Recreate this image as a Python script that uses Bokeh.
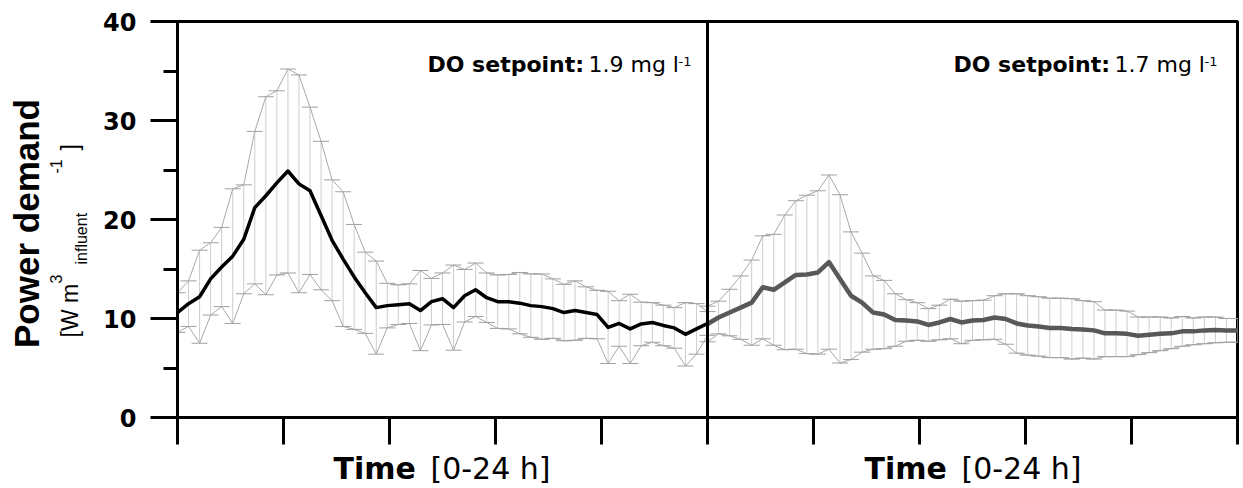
import math
from bokeh.plotting import figure
from bokeh.models import Range1d, FixedTicker, Label, Span, CustomJSTickFormatter
from bokeh.layouts import row, column
from bokeh.embed import file_html
from bokeh.resources import INLINE

# ---------------- data ----------------
half_hours = [i * 0.5 for i in range(49)]          # 0 ... 24 h, 30-min steps

mean_do19 = [10.6, 11.5, 12.2, 14.0, 15.2, 16.3, 18.0, 21.2, 22.4, 23.7,
             24.9, 23.6, 22.9, 20.4, 17.9, 16.0, 14.2, 12.6, 11.1, 11.3,
             11.4, 11.5, 10.8, 11.7, 12.0, 11.1, 12.3, 12.9, 12.1, 11.7,
             11.7, 11.55, 11.3, 11.2, 11.0, 10.6, 10.8, 10.6, 10.4, 9.1,
             9.5, 8.95, 9.45, 9.6, 9.3, 9.05, 8.4, 8.95, 9.5]
sd_do19 = [2.0, 2.3, 4.7, 3.65, 4.0, 6.8, 5.5, 7.7, 10.0, 9.3,
           10.3, 11.0, 8.45, 7.5, 6.1, 6.8, 5.3, 4.1, 4.7, 2.25,
           2.0, 2.0, 4.05, 2.35, 2.6, 4.3, 2.65, 2.7, 2.5, 2.7,
           2.75, 3.1, 3.2, 3.3, 3.0, 2.85, 3.0, 2.6, 2.45, 3.65,
           2.3, 3.5, 2.2, 2.0, 2.05, 2.05, 3.2, 2.55, 1.2]

mean_do17 = [9.45, 10.1, 10.6, 11.1, 11.6, 13.15, 12.9, 13.65, 14.4, 14.45,
             14.65, 15.7, 14.0, 12.3, 11.6, 10.6, 10.4, 9.85, 9.8, 9.7,
             9.35, 9.6, 9.95, 9.6, 9.8, 9.85, 10.1, 9.95, 9.5, 9.3,
             9.2, 9.05, 9.05, 8.95, 8.9, 8.8, 8.5, 8.5, 8.45, 8.25,
             8.35, 8.45, 8.5, 8.7, 8.7, 8.8, 8.85, 8.8, 8.8]
sd_do17 = [1.8, 1.65, 2.35, 3.2, 4.3, 5.2, 5.6, 6.8, 7.5, 8.0,
           8.25, 8.8, 8.5, 6.45, 5.0, 3.7, 3.45, 2.65, 2.1, 1.9,
           1.65, 1.75, 2.0, 2.15, 2.0, 2.0, 2.2, 2.55, 3.0, 3.0,
           3.0, 3.0, 3.0, 3.05, 2.9, 2.9, 2.35, 2.35, 2.3, 1.9,
           1.8, 1.7, 1.55, 1.5, 1.35, 1.35, 1.3, 1.2, 1.2]

y_ticks = [0, 10, 20, 30, 40]
y_minor = [5, 15, 25, 35]
x_ticks = [i * 4.8 for i in range(11)]
panel_offsets = [0, 24]
setpoint_texts = ["1.9 mg l", "1.7 mg l"]

# ---------------- layout (absolute canvas pixels) ----------------
W, H = 1243, 488
YLW = 100            # width of the y-title strip
MAIN_H = 450         # height of the main plot
FL, FR, FT, FB = 177, 1237, 21, 417   # frame edges, absolute px
XMAX, YMAX = 48, 40
SHIFT = 0.36         # renderer draws the baseline ~0.36 em past the anchor


def px2x(px):
    return (px - FL) / (FR - FL) * XMAX


def py2y(py):
    return (FB - py) / (FB - FT) * YMAX


def blank_fig(w, h, xr, yr):
    f = figure(width=w, height=h, x_range=xr, y_range=yr,
               output_backend="svg", toolbar_location=None,
               x_axis_location=None, y_axis_location=None,
               min_border=0, min_border_left=0, min_border_right=0,
               min_border_top=0, min_border_bottom=0)
    f.xgrid.visible = False
    f.ygrid.visible = False
    f.outline_line_color = None
    f.background_fill_color = "white"
    f.border_fill_color = "white"
    return f


# ---------------- main plot ----------------
p = figure(width=W - YLW, height=MAIN_H, x_range=Range1d(0, XMAX), y_range=Range1d(0, YMAX),
           output_backend="svg", toolbar_location=None,
           min_border_left=FL - YLW, min_border_right=W - FR,
           min_border_top=FT, min_border_bottom=MAIN_H - FB)
p.xgrid.visible = False
p.ygrid.visible = False
p.outline_line_color = "black"
p.outline_line_width = 3
p.background_fill_color = "white"
p.border_fill_color = "white"

ya = p.yaxis[0]
ya.ticker = FixedTicker(ticks=y_ticks, minor_ticks=y_minor)
ya.axis_line_width = 3
ya.major_tick_line_width = 3
ya.minor_tick_line_width = 3
ya.major_tick_out = 27
ya.major_tick_in = 0
ya.minor_tick_out = 14
ya.minor_tick_in = 0
ya.major_label_standoff = 14
ya.major_label_text_font = "DejaVu Sans"
ya.major_label_text_font_style = "bold"
ya.major_label_text_font_size = "24px"
ya.major_label_text_color = "black"

xa = p.xaxis[0]
xa.ticker = FixedTicker(ticks=x_ticks, minor_ticks=[])
xa.formatter = CustomJSTickFormatter(code="return ''")
xa.major_label_text_font_size = "0px"
xa.major_label_standoff = 0
xa.axis_line_width = 3
xa.major_tick_line_width = 3
xa.major_tick_out = 27
xa.major_tick_in = 0
xa.minor_tick_out = 0

series = [
    ([panel_offsets[0] + h for h in half_hours], mean_do19, sd_do19, "black", 3.5),
    ([panel_offsets[1] + h for h in half_hours], mean_do17, sd_do17, "#585858", 4.5),
]
for xs, m, sd, col, lw in series:
    up = [a + b for a, b in zip(m, sd)]
    lo = [a - b for a, b in zip(m, sd)]
    p.segment(xs, lo, xs, up, line_color="#cdcdcd", line_width=1)
    p.line(xs, up, line_color="#a8a8a8", line_width=1)
    p.line(xs, lo, line_color="#a8a8a8", line_width=1)
    p.scatter(xs, up, marker="dash", size=16, line_color="#a0a0a0", line_width=1)
    p.scatter(xs, lo, marker="dash", size=16, line_color="#a0a0a0", line_width=1)

for xs, m, sd, col, lw in series:
    p.line(xs, m, line_color=col, line_width=lw, line_join="round")

p.add_layout(Span(location=panel_offsets[1], dimension="height",
                  line_color="black", line_width=3))


def lab(fig, text, x, y, size, bold=False, angle=0.0, family="DejaVu Sans",
        align="left"):
    fig.add_layout(Label(x=x, y=y, text=text, text_font=family,
                         text_font_size=f"{size}px",
                         text_font_style="bold" if bold else "normal",
                         angle=angle, text_align=align, text_baseline="alphabetic",
                         text_color="black"))


def hlab(fig, text, px, base_py, size, to_y, **kw):
    # horizontal text: wanted baseline at base_py (pixels from top)
    lab(fig, text, px, to_y(base_py - SHIFT * size), size, **kw)


for x0, st in zip([427, 953], setpoint_texts):
    hlab(p, "DO setpoint:", px2x(x0), 72, 22, py2y, bold=True)
    hlab(p, st, px2x(x0 + 161), 72, 22, py2y)
    hlab(p, "-1", px2x(x0 + 251), 66, 13, py2y)

# ---------------- y-title strip (pixel coordinates) ----------------
fy = blank_fig(YLW, H, Range1d(0, YLW), Range1d(H, 0))
ang = math.pi / 2


def vlab(text, base_px, py, size, **kw):
    # rotated text: wanted baseline at x = base_px
    lab(fy, text, base_px - SHIFT * size, py, size, angle=ang,
        family="Liberation Sans", **kw)


vlab("Power demand", 39, 223, 35, bold=True, align="center")
vlab("[W m", 78, 337, 23)
vlab("3", 61, 283, 16)
vlab("influent", 87, 264, 16)
vlab("-1", 61, 173, 16)
vlab("]", 78, 150, 23)

# ---------------- x-title strip (its frame lines up with the main frame) ----------------
fx = blank_fig(W - YLW, H - MAIN_H, Range1d(FL, FR), Range1d(H, MAIN_H))
for x0 in [333, 864]:
    hlab(fx, "Time", x0, 479, 30, lambda v: v, bold=True)
    hlab(fx, "[0-24 h]", x0 + 97, 479, 30, lambda v: v)

layout = row(fy, column(p, fx, spacing=0), spacing=0)
open("out.html", "w").write(file_html(layout, INLINE))
